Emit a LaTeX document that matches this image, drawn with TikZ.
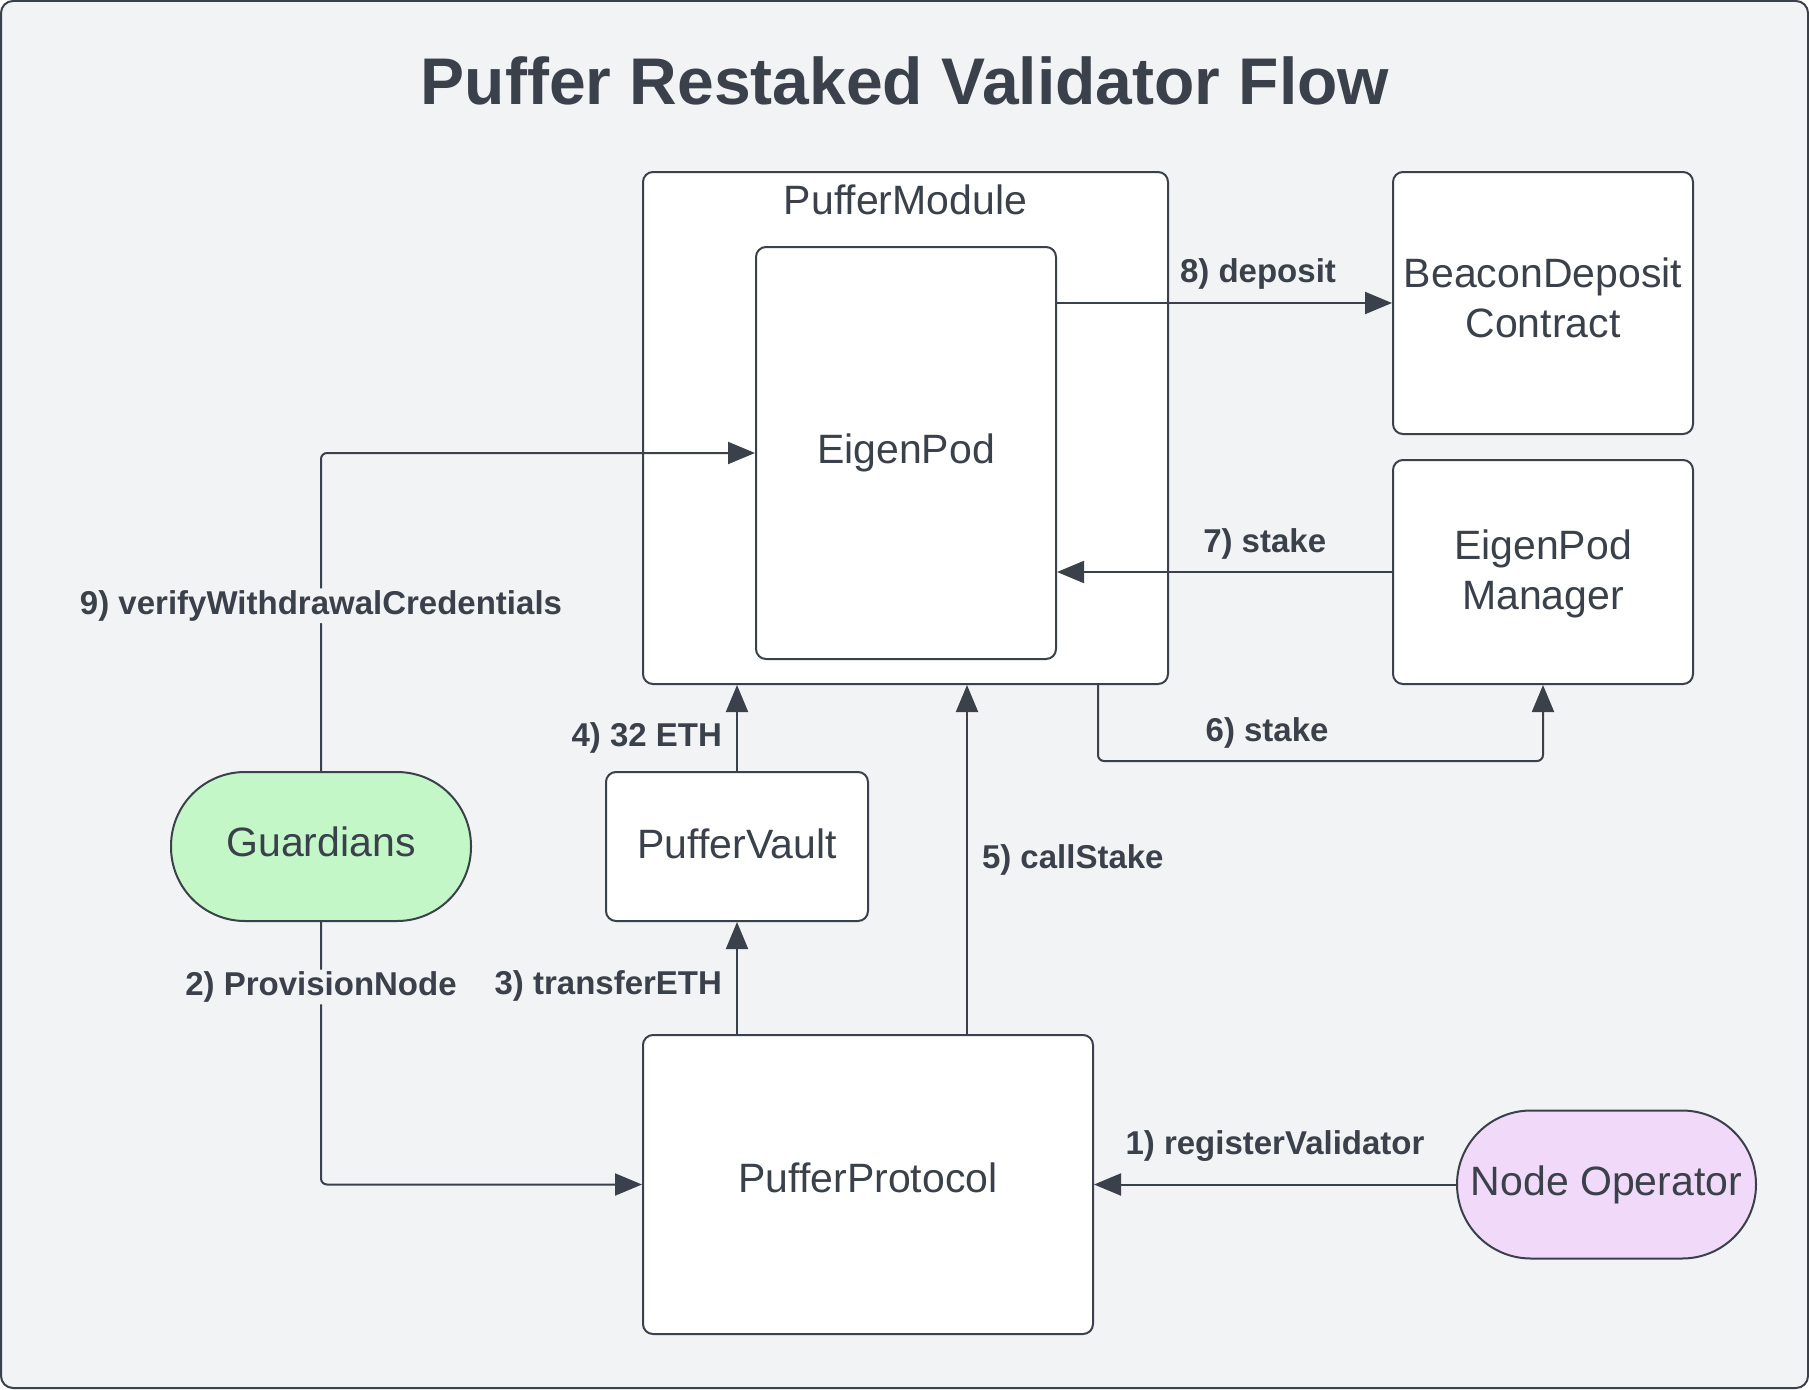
\documentclass[tikz,border=0pt]{standalone}
\usepackage{fontspec}
\setmainfont{Liberation Sans}
\usetikzlibrary{arrows.meta}
\definecolor{ink}{HTML}{3A414A}
\definecolor{paper}{HTML}{F2F3F5}
\definecolor{guardgreen}{HTML}{C3F7C8}
\definecolor{operpurple}{HTML}{F1D9FA}

\begin{document}
\begin{tikzpicture}[x=1pt, y=-1pt,
    block/.style={draw=ink, line width=2pt, fill=white, rounded corners=10pt, text=ink,
      font=\fontsize{41}{50}\selectfont, align=center, inner sep=0pt},
    pill/.style={block, rounded corners=74pt},
    lbl/.style={text=ink, font=\fontsize{33}{39}\selectfont\bfseries, inner sep=2pt},
    flow/.style={draw=ink, line width=2pt, -{Triangle[length=27pt,width=22pt]}}]

    \useasboundingbox (0,0) rectangle (1809,1389);
    % frame
    \draw[draw=ink, fill=paper, line width=2pt, rounded corners=12pt] (1,1) rectangle (1808,1388);

    \node[text=ink, font=\fontsize{66}{80}\selectfont\bfseries] (title) at (905,81) {Puffer Restaked Validator Flow};

    % boxes
    \node[block, minimum width=525pt, minimum height=512pt] (module) at (905.5,428) {};
    \node[text=ink, font=\fontsize{41}{50}\selectfont, inner sep=0pt] (modlabel) at ([yshift=-29pt]module.north) {PufferModule};
    \node[block, minimum width=300pt, minimum height=412pt] (pod) at (906,453) {EigenPod};
    \node[block, text depth=10pt, minimum width=300pt, minimum height=262pt] (beacon) at (1543,303) {BeaconDeposit\\Contract};
    \node[block, text depth=4pt, minimum width=300pt, minimum height=224pt] (epm) at (1543,572) {EigenPod\\Manager};
    \node[pill, fill=guardgreen, text depth=10pt, minimum width=300pt, minimum height=149pt] (guard) at (321,846.5) {Guardians};
    \node[block, text depth=6pt, minimum width=262pt, minimum height=149pt] (vault) at (737,846.5) {PufferVault};
    \node[block, text depth=14pt, minimum width=450pt, minimum height=299pt] (proto) at (868,1184.5) {PufferProtocol};
    \node[pill, fill=operpurple, minimum width=299pt, minimum height=148pt] (oper) at (1606.5,1184.5) {Node Operator};

    % steps
    \draw[flow] (oper.west) -- node[lbl, pos=.5, yshift=38pt] {1) registerValidator} (proto.east);
    \draw[flow, rounded corners=6pt] (guard.south) |- node[lbl, fill=paper, pos=.124] {2) ProvisionNode} (proto.west);
    \draw[flow] (vault.south |- proto.north) -- node[lbl, pos=.43, anchor=east, xshift=-12pt] {3) transferETH} (vault.south);
    \draw[flow] (vault.north) -- node[lbl, pos=.38, anchor=east, xshift=-12pt] {4) 32 ETH} (vault.north |- module.south);
    \coordinate (stakeout) at ([xshift=99pt]proto.north);
    \draw[flow] (stakeout) -- node[lbl, pos=.5, anchor=west, xshift=12pt] {5) callStake} (stakeout |- module.south);
    \coordinate (podout) at ([xshift=-71pt]module.south east);
    \draw[flow, rounded corners=6pt] (podout) -- ++(0,76) -| node[lbl, pos=.19, yshift=28pt] {6) stake} (epm.south);
    \draw[flow] (epm.west) -- node[lbl, pos=.38, yshift=28pt] {7) stake} (epm.west -| pod.east);
    \draw[flow] (pod.east |- beacon.west) -- node[lbl, pos=.6, yshift=29pt] {8) deposit} (beacon.west);
    \draw[flow, rounded corners=6pt] (guard.north) |- node[lbl, fill=paper, pos=.26] {9) verifyWithdrawalCredentials} (pod.west);
\end{tikzpicture}
\end{document}
